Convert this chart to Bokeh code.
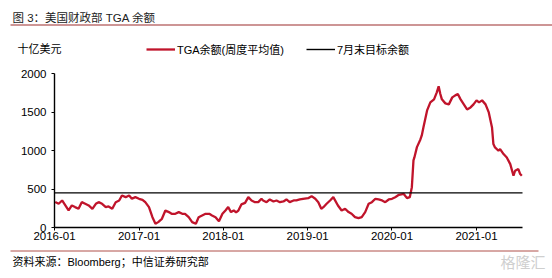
import pandas as pd
from bokeh.plotting import figure
from bokeh.models import (Range1d, FixedTicker, DatetimeTickFormatter, Label, Arrow,
                          ColumnDataSource, Legend, LegendItem)
from bokeh.embed import file_html
from bokeh.resources import INLINE

# ---------------- data ----------------
tga_dates = [
    "2016-01-04", "2016-01-19", "2016-02-03", "2016-02-17", "2016-03-02", "2016-03-16",
    "2016-03-30", "2016-04-14", "2016-04-28", "2016-05-13", "2016-05-28", "2016-06-13",
    "2016-06-28", "2016-07-10", "2016-07-25", "2016-08-10", "2016-08-22", "2016-09-07",
    "2016-09-22", "2016-10-07", "2016-10-19", "2016-11-04", "2016-11-19", "2016-12-01",
    "2016-12-16", "2017-01-01", "2017-01-16", "2017-01-28", "2017-02-13", "2017-02-28",
    "2017-03-13", "2017-03-25", "2017-04-10", "2017-04-25", "2017-05-10", "2017-05-22",
    "2017-06-07", "2017-06-22", "2017-07-07", "2017-07-19", "2017-08-04", "2017-08-19",
    "2017-09-04", "2017-09-16", "2017-10-01", "2017-10-16", "2017-11-01", "2017-11-13",
    "2017-11-28", "2017-12-13", "2017-12-28", "2018-01-10", "2018-01-22", "2018-02-03",
    "2018-02-15", "2018-02-25", "2018-03-07", "2018-03-20", "2018-04-05", "2018-04-19",
    "2018-05-03", "2018-05-18", "2018-06-01", "2018-06-15", "2018-06-22", "2018-07-07",
    "2018-07-21", "2018-08-06", "2018-08-19", "2018-09-03", "2018-09-18", "2018-10-01",
    "2018-10-15", "2018-11-01", "2018-11-13", "2018-11-28", "2018-12-12", "2019-01-03",
    "2019-01-18", "2019-02-03", "2019-02-16", "2019-03-01", "2019-03-10", "2019-03-24",
    "2019-04-08", "2019-04-22", "2019-05-12", "2019-05-28", "2019-06-12", "2019-06-27",
    "2019-07-10", "2019-07-25", "2019-08-09", "2019-08-23", "2019-09-07", "2019-09-22",
    "2019-10-06", "2019-10-21", "2019-11-04", "2019-11-19", "2019-12-03", "2019-12-18",
    "2020-01-01", "2020-01-15", "2020-01-31", "2020-02-21", "2020-03-06", "2020-03-18",
    "2020-03-27", "2020-04-03", "2020-04-07", "2020-04-18", "2020-05-03", "2020-05-09",
    "2020-05-16", "2020-06-01", "2020-06-15", "2020-07-01", "2020-07-13", "2020-07-21",
    "2020-07-28", "2020-08-04", "2020-08-19", "2020-09-03", "2020-09-18", "2020-10-01",
    "2020-10-12", "2020-10-24", "2020-11-07", "2020-11-21", "2020-12-06", "2020-12-19",
    "2021-01-01", "2021-01-12", "2021-01-25", "2021-02-09", "2021-02-23", "2021-03-09",
    "2021-03-15", "2021-03-22", "2021-04-06", "2021-04-13", "2021-04-28", "2021-05-12",
    "2021-05-27", "2021-06-10", "2021-06-17", "2021-07-01", "2021-07-09", "2021-07-16",
]
tga_values = [
    330, 308, 351, 286, 221, 286,
    265, 243, 329, 308, 286, 243,
    308, 329, 308, 265, 273, 243,
    329, 351, 416, 394, 416, 373,
    394, 373, 360, 329, 265, 134,
    48, 70, 113, 221, 200, 178,
    178, 200, 178, 178, 134, 70,
    48, 134, 156, 178, 178, 156,
    134, 80, 178, 221, 265, 200,
    221, 195, 220, 300, 320, 394,
    351, 329, 329, 373, 351, 329,
    364, 338, 351, 329, 338, 364,
    329, 351, 351, 364, 373, 381,
    407, 373, 329, 243, 264, 308,
    351, 394, 286, 221, 243, 200,
    178, 134, 121, 134, 200, 308,
    329, 373, 364, 351, 329, 364,
    373, 394, 425, 436, 381, 394,
    524, 871, 910, 1044, 1144, 1196,
    1300, 1521, 1625, 1664, 1755, 1833,
    1737, 1664, 1612, 1599, 1690, 1716,
    1733, 1664, 1599, 1534, 1560, 1599,
    1651, 1625, 1651, 1599, 1495, 1300,
    1084, 1040, 997, 1019, 954, 910,
    823, 672, 737, 759, 694, 672,
]
target_dates = ["2016-01-01", "2021-07-19"]
target_values = [450, 450]
y_ticks = [0, 500, 1000, 1500, 2000]
x_tick_labels = ["2016-01", "2017-01", "2018-01", "2019-01", "2020-01", "2021-01"]

# ---------------- layout geometry (canvas px) ----------------
W, H = 552, 278
AX_L, AX_R = 54, 522      # x-axis extent
AX_T, AX_B = 73, 227      # y-axis extent (2000 .. 0)
FONT = "Liberation Sans, Noto Sans CJK SC"

x0 = pd.Timestamp(target_dates[0])
x1 = pd.Timestamp(target_dates[1])
span = x1 - x0
xs = x0 - span * (AX_L / (AX_R - AX_L))
xe = x1 + span * ((W - AX_R) / (AX_R - AX_L))
ymax = y_ticks[-1]
upp = ymax / (AX_B - AX_T)
ys = 0 - (H - AX_B) * upp
ye = ymax + AX_T * upp

p = figure(width=W, height=H, output_backend="svg", toolbar_location=None,
           x_axis_type="datetime",
           x_range=Range1d(xs, xe), y_range=Range1d(ys, ye),
           min_border=0, min_border_left=0, min_border_right=0,
           min_border_top=0, min_border_bottom=0,
           background_fill_color="white", border_fill_color="white")
p.outline_line_color = None
p.grid.visible = False

src = ColumnDataSource(dict(x=pd.to_datetime(tga_dates), y=tga_values))
r_tga = p.line("x", "y", source=src, line_color="#C0142B", line_width=2.3)
r_tgt = p.line(pd.to_datetime(target_dates), target_values, line_color="black", line_width=1.4)

# axes drawn at fixed positions inside the canvas
tick_ms = [pd.Timestamp(t + "-01").value / 1e6 for t in x_tick_labels]
p.xaxis.ticker = FixedTicker(ticks=tick_ms)
p.xaxis.formatter = DatetimeTickFormatter(months="%Y-%m", years="%Y-%m", days="%Y-%m")
p.xaxis.fixed_location = 0
p.xaxis.bounds = (x0.value / 1e6, x1.value / 1e6)
p.yaxis.ticker = FixedTicker(ticks=y_ticks)
p.yaxis.fixed_location = x0.value / 1e6
p.yaxis.bounds = (0, ymax)
for ax in (p.xaxis[0], p.yaxis[0]):
    ax.axis_line_color = "black"
    ax.axis_line_width = 1.4
    ax.major_tick_line_color = "black"
    ax.major_tick_in = 0
    ax.major_tick_out = 3
    ax.minor_tick_line_color = None
    ax.major_label_text_font = FONT
    ax.major_label_text_font_size = "11.5px"
    ax.major_label_text_color = "black"
p.xaxis.major_label_standoff = 1
p.yaxis.major_label_standoff = 5

# legend
legend = Legend(items=[LegendItem(label="TGA余额(周度平均值)", renderers=[r_tga]),
                       LegendItem(label="7月末目标余额", renderers=[r_tgt])],
                orientation="horizontal", location=(146, H - 58.5), padding=0, margin=0,
                spacing=22, glyph_width=29, glyph_height=20, label_standoff=2,
                label_text_font=FONT, label_text_font_size="11px",
                label_text_color="black", border_line_color=None,
                background_fill_alpha=0)
p.add_layout(legend)


def lab(text, cx, cy, size="11px", color="black", align="left"):
    p.add_layout(Label(x=cx, y=H - cy, x_units="screen", y_units="screen", text=text,
                       text_font=FONT, text_font_size=size, text_color=color,
                       text_baseline="middle", text_align=align))


def rule(xa, xb, cy, color, w=1.2):
    p.add_layout(Arrow(x_start=xa, y_start=H - cy, x_end=xb, y_end=H - cy,
                       start_units="screen", end_units="screen", end=None,
                       line_color=color, line_width=w))


lab("图 3：美国财政部 TGA 余额", 12, 17, size="11.5px", color="#222222")
rule(10, 552, 24.5, "#9B2C2C", 1.2)
lab("十亿美元", 17, 48, size="11px")
rule(10, 538, 250.5, "#B0504A", 1.0)
lab("资料来源：Bloomberg；中信证券研究部", 12, 261, size="11px")
lab("格隆汇", 545, 262, size="15px", color="#cfcfcf", align="right")

open("out.html", "w").write(file_html(p, INLINE))
